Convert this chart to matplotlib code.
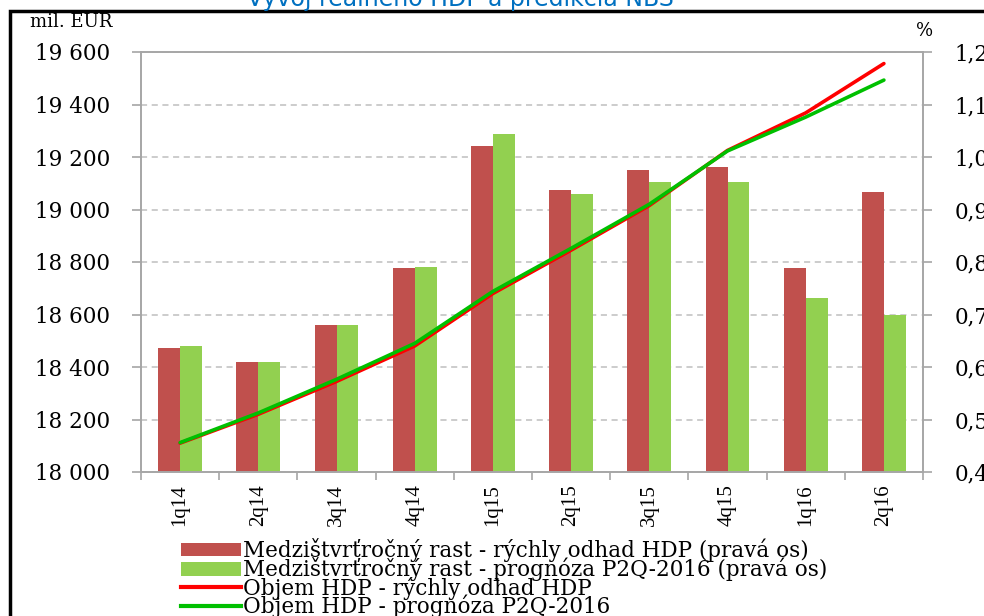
import matplotlib
matplotlib.use("Agg")
import matplotlib.pyplot as plt
import numpy as np
from matplotlib.patches import Rectangle, Patch
from matplotlib.lines import Line2D
from matplotlib.ticker import FuncFormatter

plt.rcParams['font.family'] = ['DejaVu Serif']

# data
quarters = ['1q14', '2q14', '3q14', '4q14', '1q15', '2q15', '3q15', '4q15', '1q16', '2q16']
rast_odhad = [0.636, 0.61, 0.68, 0.789, 1.021, 0.937, 0.975, 0.981, 0.789, 0.933]
rast_prognoza = [0.64, 0.61, 0.68, 0.79, 1.043, 0.93, 0.952, 0.952, 0.731, 0.70]
objem_odhad = [18110, 18220, 18345, 18480, 18680, 18845, 19015, 19225, 19368, 19556]
objem_prognoza = [18112, 18225, 18353, 18490, 18688, 18852, 19020, 19223, 19352, 19493]

c_bar_red = '#C0504D'
c_bar_green = '#92D050'
c_line_red = '#FF0000'
c_line_green = '#00C000'
c_axis = '#A6A6A6'

fig = plt.figure(figsize=(9.84, 6.16), dpi=100)
ax = fig.add_axes([141/984, 1-472/616, (923-141)/984, (472-52)/616])
ax2 = ax.twinx()

x = np.arange(len(quarters))
w = 0.28
ax2.bar(x - w/2, rast_odhad, width=w, color=c_bar_red, zorder=2)
ax2.bar(x + w/2, rast_prognoza, width=w, color=c_bar_green, zorder=2)
ax2.set_ylim(0.4, 1.2)
ax2.set_yticks(np.arange(0.4, 1.21, 0.1))
ax2.yaxis.set_major_formatter(FuncFormatter(lambda v, p: f'{v:.1f}'.replace('.', ',')))
ax2.grid(axis='y', color='#BFBFBF', linestyle=(0, (4, 3)), linewidth=1.1, zorder=0)
ax2.set_axisbelow(True)

ax.set_zorder(ax2.get_zorder() + 1)
ax.patch.set_visible(False)
ax.plot(x, objem_odhad, color=c_line_red, lw=2.6, solid_capstyle='round')
ax.plot(x, objem_prognoza, color=c_line_green, lw=2.6, solid_capstyle='round')
ax.set_ylim(18000, 19600)
ax.set_yticks(np.arange(18000, 19601, 200))
ax.yaxis.set_major_formatter(FuncFormatter(lambda v, p: f'{int(v):,}'.replace(',', ' ')))
ax.set_xlim(-0.5, len(quarters) - 0.5)
ax.set_xticks(np.arange(-0.5, len(quarters), 1.0))
ax.set_xticklabels([])
ax.set_xticks(x, minor=True)
ax.set_xticklabels(quarters, minor=True, rotation=90, fontsize=15, family='Liberation Serif')
ax.tick_params(axis='x', which='minor', length=0, pad=9)
ax.tick_params(axis='x', which='major', length=6, color=c_axis, width=1.2)

for a in (ax, ax2):
    for s in a.spines.values():
        s.set_color(c_axis)
        s.set_linewidth(1.2)
ax.tick_params(axis='y', length=6.5, color=c_axis, width=1.2, labelsize=15.5, pad=15.5)
ax2.tick_params(axis='y', length=6.5, color=c_axis, width=1.2, labelsize=15.5, pad=16)

fig.text(30/984, 1-22/616, 'mil. EUR', fontsize=13, va='center', ha='left')
fig.text(916/984, 1-31/616, '%', fontsize=13, va='center', ha='left')
fig.text(460/984, 1-6/616, 'Vývoj reálneho HDP a predikcia NBS', fontsize=17,
         color='#0070C0', ha='center', va='baseline', family=['DejaVu Sans'])

# outer frame
fig.patches.append(Rectangle((10/984, -0.1), 1.2, 1-11/616+0.1, transform=fig.transFigure,
                             fill=False, edgecolor='black', linewidth=2.5))

handles = [Patch(facecolor=c_bar_red), Patch(facecolor=c_bar_green),
           Line2D([], [], color=c_line_red, lw=3), Line2D([], [], color=c_line_green, lw=3)]
labels = ['Medzištvrťročný rast - rýchly odhad HDP (pravá os)',
          'Medzištvrťročný rast - prognóza P2Q-2016 (pravá os)',
          'Objem HDP - rýchly odhad HDP',
          'Objem HDP - prognóza P2Q-2016']
fig.legend(handles, labels, loc='upper left', bbox_to_anchor=(181/984, 1-538/616),
           frameon=False, fontsize=15.5, handlelength=2.8, handleheight=0.6,
           handletextpad=0.1, labelspacing=-0.22, borderpad=0, borderaxespad=0)

fig.savefig('out.png', dpi=100)
